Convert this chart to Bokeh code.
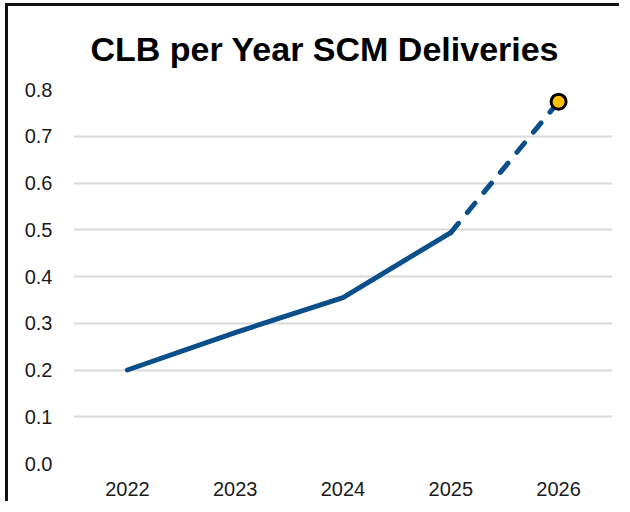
from bokeh.plotting import figure
from bokeh.models import FixedTicker, NumeralTickFormatter, Range1d
from bokeh.embed import file_html
from bokeh.resources import INLINE

years = ["2022", "2023", "2024", "2025", "2026"]
values = [0.20, 0.28, 0.355, 0.494, 0.774]
y_ticks = [0.0, 0.1, 0.2, 0.3, 0.4, 0.5, 0.6, 0.7, 0.8]

LINE = "#0B4F8A"

p = figure(x_range=years, y_range=Range1d(0, 0.8), width=614, height=498,
           output_backend="svg", toolbar_location=None,
           min_border_left=65, min_border_right=10, min_border_top=83, min_border_bottom=41,
           title="CLB per Year SCM Deliveries")

p.title.text_font = "Liberation Sans"
p.title.text_font_style = "bold"
p.title.text_font_size = "34px"
p.title.text_color = "#000000"
p.title.align = "left"
p.title.offset = 17
p.title.standoff = 43

p.outline_line_color = None
p.xgrid.grid_line_color = None
p.ygrid.grid_line_color = "#D9D9D9"
p.ygrid.grid_line_width = 2

p.yaxis.ticker = FixedTicker(ticks=y_ticks)
p.yaxis.formatter = NumeralTickFormatter(format="0.0")
for ax in (p.xaxis, p.yaxis):
    ax.axis_line_color = None
    ax.major_tick_line_color = None
    ax.minor_tick_line_color = None
    ax.major_label_text_font = "Liberation Sans"
    ax.major_label_text_font_size = "20px"
    ax.major_label_text_color = "#1A1A1A"
p.yaxis.major_label_standoff = 15
p.xaxis.major_label_standoff = 12

p.line(years[:4], values[:4], line_color=LINE, line_width=5, line_join="round", line_cap="round")
p.line(years[3:], values[3:], line_color=LINE, line_width=5, line_dash="12 14", line_cap="round")
p.scatter([years[-1]], [values[-1]], size=15, fill_color="#FFC000", line_color="#000000", line_width=3)

p.styles = {"border-left": "3px solid #111111", "border-top": "3px solid #111111",
            "margin-left": "5px", "margin-top": "3px"}

open("out.html", "w").write(file_html(p, INLINE))
